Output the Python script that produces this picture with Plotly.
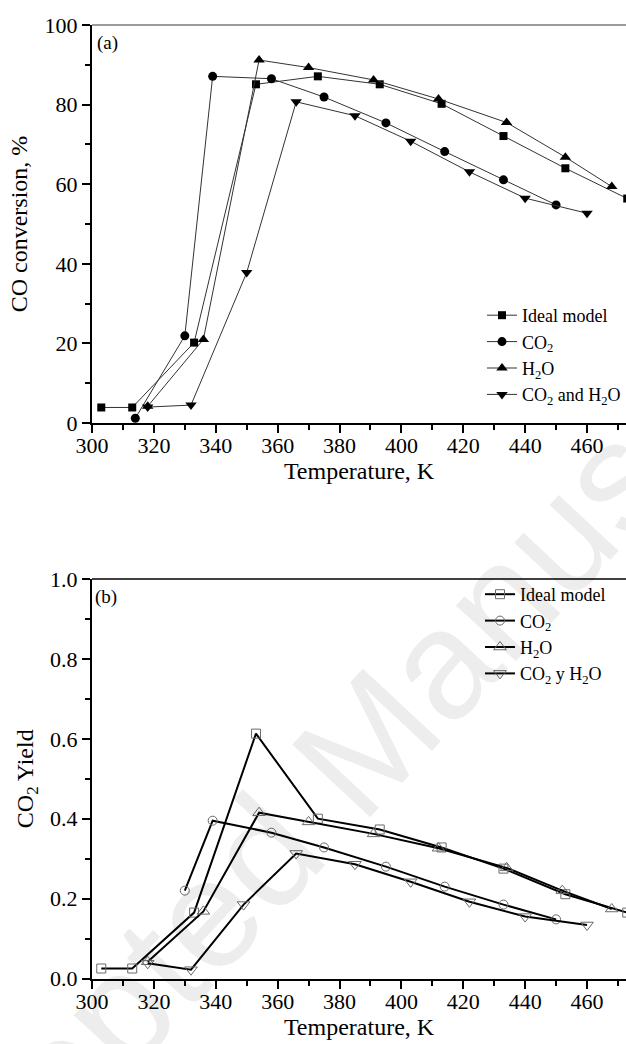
import plotly.graph_objects as go

# ---------------- data: (a) CO conversion ----------------
ideal_T_a = [303, 313, 333, 353, 373, 393, 413, 433, 453, 473]
ideal_conv = [3.9, 3.9, 20.2, 85.1, 87.1, 85.1, 80.2, 72.1, 64.0, 56.4]
co2_T_a = [314, 330, 339, 358, 375, 395, 414, 433, 450]
co2_conv = [1.2, 21.9, 87.1, 86.5, 81.9, 75.4, 68.2, 61.1, 54.8]
h2o_T_a = [318, 336, 354, 370, 391, 412, 434, 453, 468]
h2o_conv = [4.2, 21.0, 91.2, 89.3, 86.2, 81.4, 75.5, 66.8, 59.4]
both_T_a = [318, 332, 350, 366, 385, 403, 422, 440, 460]
both_conv = [4.0, 4.5, 37.8, 80.7, 77.2, 70.8, 63.1, 56.5, 52.7]

# ---------------- data: (b) CO2 yield ----------------
ideal_T_b = [303, 313, 333, 353, 373, 393, 413, 433, 453, 473]
ideal_yield = [0.025, 0.025, 0.165, 0.613, 0.400, 0.373, 0.328, 0.275, 0.211, 0.165]
co2_T_b = [330, 339, 358, 375, 395, 414, 433, 450]
co2_yield = [0.220, 0.395, 0.365, 0.328, 0.280, 0.230, 0.185, 0.148]
h2o_T_b = [318, 336, 354, 370, 391, 412, 434, 452, 468]
h2o_yield = [0.042, 0.168, 0.415, 0.392, 0.362, 0.326, 0.277, 0.220, 0.174]
both_T_b = [318, 332, 349, 366, 385, 403, 422, 440, 460]
both_yield = [0.038, 0.022, 0.185, 0.313, 0.286, 0.242, 0.192, 0.155, 0.134]

names_a = ["Ideal model", "CO<sub>2</sub>", "H<sub>2</sub>O", "CO<sub>2</sub> and H<sub>2</sub>O"]
names_b = ["Ideal model", "CO<sub>2</sub>", "H<sub>2</sub>O", "CO<sub>2</sub> y H<sub>2</sub>O"]

W, H = 626, 1044
FONT = "Liberation Serif, Times New Roman, serif"

fig = go.Figure()

series_a = [
    (ideal_T_a, ideal_conv, "square", 8),
    (co2_T_a, co2_conv, "circle", 9),
    (h2o_T_a, h2o_conv, "triangle-up", 10),
    (both_T_a, both_conv, "triangle-down", 10),
]
for (xs, ys, sym, sz), nm in zip(series_a, names_a):
    fig.add_trace(go.Scatter(
        x=xs, y=ys, name=nm, mode="lines+markers", xaxis="x", yaxis="y",
        line=dict(color="#333333", width=1),
        marker=dict(symbol=sym, size=sz, color="black"),
        legend="legend", cliponaxis=True))

series_b = [
    (ideal_T_b, ideal_yield, "square-open", 9),
    (co2_T_b, co2_yield, "circle-open", 9),
    (h2o_T_b, h2o_yield, "triangle-up-open", 11),
    (both_T_b, both_yield, "triangle-down-open", 11),
]
for (xs, ys, sym, sz), nm in zip(series_b, names_b):
    fig.add_trace(go.Scatter(
        x=xs, y=ys, name=nm, mode="lines+markers", xaxis="x2", yaxis="y2",
        line=dict(color="black", width=2),
        marker=dict(symbol=sym, size=sz, color="#6a6a6a", line=dict(width=1)),
        legend="legend2", cliponaxis=True))

dom_x = [92 / W, 1.0]
dom_y1 = [1 - 423 / H, 1 - 25 / H]
dom_y2 = [1 - 978.5 / H, 1 - 579 / H]

tickfont = dict(family=FONT, size=22, color="black")
titlefont = dict(family=FONT, size=24, color="black")

def xaxis_cfg(anchor, standoff):
    return dict(
        domain=dom_x, anchor=anchor, range=[300, 472.6],
        tickmode="array", tickvals=[300, 320, 340, 360, 380, 400, 420, 440, 460],
        ticks="outside", ticklen=8, tickwidth=2, tickcolor="black",
        ticklabelstandoff=-6,
        minor=dict(tickvals=[310, 330, 350, 370, 390, 410, 430, 450, 470],
                   ticks="outside", ticklen=5, tickwidth=2, tickcolor="black"),
        showline=True, linecolor="black", linewidth=2,
        showgrid=False, zeroline=False, tickfont=tickfont,
        title=dict(text="Temperature, K", font=titlefont, standoff=standoff),
        automargin=False)

fig.update_layout(
    width=W, height=H,
    margin=dict(l=0, r=0, t=0, b=0, autoexpand=False),
    paper_bgcolor="white", plot_bgcolor="rgba(0,0,0,0)",
    font=dict(family=FONT, color="black"),
    xaxis=xaxis_cfg("y", 0),
    yaxis=dict(
        domain=dom_y1, anchor="x", range=[0, 100],
        tickmode="array", tickvals=[0, 20, 40, 60, 80, 100],
        ticks="outside", ticklen=8, tickwidth=2, tickcolor="black",
        minor=dict(tickvals=[10, 30, 50, 70, 90], ticks="outside", ticklen=5,
                   tickwidth=2, tickcolor="black"),
        showline=True, linecolor="black", linewidth=2,
        showgrid=False, zeroline=False, tickfont=tickfont,
        title=dict(text="CO conversion, %", font=titlefont, standoff=10),
        automargin=False),
    xaxis2=xaxis_cfg("y2", 3),
    yaxis2=dict(
        domain=dom_y2, anchor="x2", range=[0, 1.0],
        tickmode="array", tickvals=[0, 0.2, 0.4, 0.6, 0.8, 1.0],
        ticktext=["0.0", "0.2", "0.4", "0.6", "0.8", "1.0"],
        ticks="outside", ticklen=8, tickwidth=2, tickcolor="black",
        minor=dict(tickvals=[0.1, 0.3, 0.5, 0.7, 0.9], ticks="outside", ticklen=5,
                   tickwidth=2, tickcolor="black"),
        showline=True, linecolor="black", linewidth=2,
        showgrid=False, zeroline=False, tickfont=tickfont,
        title=dict(text="CO<sub>2</sub> Yield", font=titlefont, standoff=10),
        automargin=False),
    legend=dict(x=482 / W, y=1 - 297 / H, xanchor="left", yanchor="top",
                bgcolor="rgba(0,0,0,0)", font=dict(family=FONT, size=18),
                tracegroupgap=0, itemsizing="trace"),
    legend2=dict(x=480 / W, y=1 - 576 / H, xanchor="left", yanchor="top",
                 bgcolor="rgba(0,0,0,0)", font=dict(family=FONT, size=18),
                 tracegroupgap=0, itemsizing="trace"),
    showlegend=True,
)

# top frame lines
fig.add_shape(type="line", xref="x domain", yref="y domain", x0=0, x1=1, y0=1, y1=1,
              line=dict(color="#7a7a7a", width=1.5))
fig.add_shape(type="line", xref="x2 domain", yref="y2 domain", x0=0, x1=1, y0=1, y1=1,
              line=dict(color="black", width=1.5))

# panel labels
fig.add_annotation(text="(a)", xref="paper", yref="paper", x=95 / W, y=1 - 43 / H,
                   xanchor="left", yanchor="middle", showarrow=False,
                   font=dict(family=FONT, size=19, color="black"))
fig.add_annotation(text="(b)", xref="paper", yref="paper", x=93 / W, y=1 - 597 / H,
                   xanchor="left", yanchor="middle", showarrow=False,
                   font=dict(family=FONT, size=19, color="black"))

# faint watermark
fig.add_annotation(text="Accepted Manuscript", xref="paper", yref="paper",
                   x=345 / W, y=1 - 765 / H, xanchor="center", yanchor="middle",
                   showarrow=False, textangle=-47,
                   font=dict(family="Liberation Sans, Arial, sans-serif", size=155,
                             color="rgba(0,0,0,0.07)"))

fig.write_html("out.html")
